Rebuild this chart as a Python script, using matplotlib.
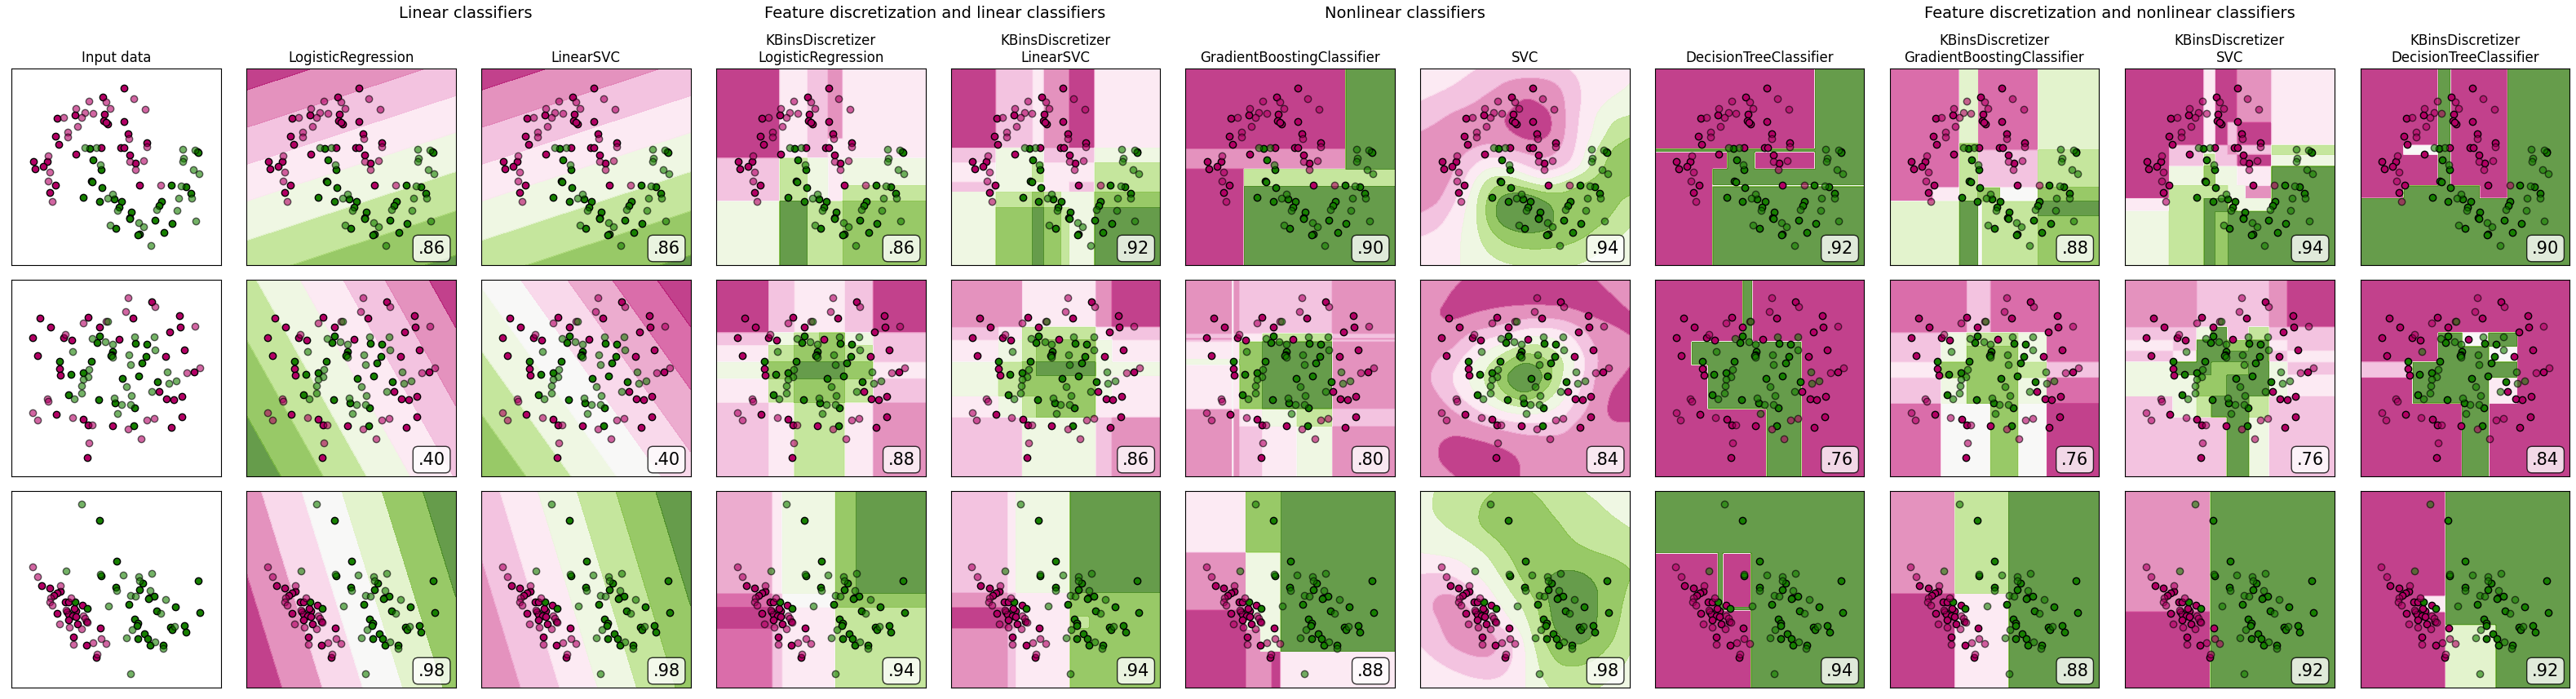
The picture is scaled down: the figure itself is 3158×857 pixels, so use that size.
import numpy as np
import matplotlib
matplotlib.use("Agg")
import matplotlib.pyplot as plt

PX_W, PX_H = 3158, 857
COL_LEFT = [14, 302, 590, 878, 1165.5, 1453, 1741, 2028.5, 2316.5, 2605, 2893.5]
ROW_TOP = [84, 343, 602]
PANEL_W, PANEL_H = 256.5, 241

NAMES = ["Input data", "LogisticRegression", "LinearSVC",
         "KBinsDiscretizer\nLogisticRegression", "KBinsDiscretizer\nLinearSVC",
         "GradientBoostingClassifier", "SVC", "DecisionTreeClassifier",
         "KBinsDiscretizer\nGradientBoostingClassifier", "KBinsDiscretizer\nSVC",
         "KBinsDiscretizer\nDecisionTreeClassifier"]
GROUP_TITLES = ["Linear classifiers", "Feature discretization and linear classifiers",
                "Nonlinear classifiers", "Feature discretization and nonlinear classifiers"]
GROUP_X = [571, 1146, 1722, 2586]

SCORES_0 = [".86", ".86", ".86", ".92", ".90", ".94", ".92", ".88", ".94", ".90"]
SCORES_1 = [".40", ".40", ".88", ".86", ".80", ".84", ".76", ".76", ".76", ".84"]
SCORES_2 = [".98", ".98", ".94", ".94", ".88", ".98", ".94", ".88", ".92", ".92"]

# points, read in units of a 468 x 723 panel
M_TRAIN_0 = [(276,323),(229,357),(167,423),(128,435),(233,421),(232,443),(240,455),(236,449),(276,448),(286,492),
             (123,502),(130,530),(327,525),(225,543),(270,544),(277,544),(169,566),(290,569),(74,593),(105,595),
             (97,612),(78,620),(303,600),(311,682),(124,681),(111,708)]
M_TEST_0 = [(299,362),(198,371),(237,374),(245,398),(325,402),(169,398),(190,415),(207,417),(181,432),(141,431),
            (172,466),(150,487),(150,503),(287,510),(327,540),(108,573),(290,593),(321,590),(302,625),(111,633),
            (107,667),(117,742),(359,682)]
G_TRAIN_0 = [(201,547),(208,589),(225,625),(203,666),(206,670),(227,691),(382,681),(415,686),(427,710),(186,725),
             (222,742),(254,733),(272,742),(265,763),(293,779),(289,802),(290,805),(347,811),(385,821),(259,839),
             (311,860),(308,863),(366,855),(360,742),(356,755),(441,559),(442,561)]
G_TEST_0 = [(190,544),(214,542),(408,549),(436,552),(410,582),(409,595),(223,606),(432,625),(445,640),(405,684),
            (251,714),(399,729),(428,730),(241,728),(263,775),(350,771),(396,773),(437,813),(309,820),(320,835),
            (245,829),(337,903)]

M_TRAIN_1 = [(339,151),(89,210),(197,206),(297,211),(400,200),(113,244),(222,243),(402,243),(379,261),(73,283),
             (141,281),(160,292),(266,287),(411,326),(84,348),(369,351),(132,396),(135,421),(434,407),(355,481),
             (372,508),(388,511),(407,499),(126,564),(186,581),(197,604),(251,607),(382,613),(406,574),(195,724)]
M_TEST_1 = [(286,135),(347,168),(281,186),(185,229),(237,221),(435,241),(146,270),(447,392),(418,411),(105,507),
            (108,515),(73,557),(83,585),(161,576),(206,604),(286,619),(328,586),(345,580),(199,668),(315,654)]
G_TRAIN_1 = [(222,276),(216,301),(303,304),(328,306),(252,333),(250,345),(248,349),(326,351),(132,369),(203,369),
             (317,376),(185,412),(158,418),(310,422),(274,432),(351,443),(153,493),(220,511),(257,521),(301,539),(298,606)]
G_TEST_1 = [(240,222),(205,285),(235,298),(251,305),(300,280),(345,280),(346,327),(162,333),(288,344),(251,355),
            (291,380),(199,398),(374,408),(196,426),(185,436),(182,458),(393,440),(377,449),(283,462),(338,481),
            (181,486),(294,495),(166,506),(254,503),(271,528),(291,527),(262,561)]

G_TRAIN_2 = [(222,146),(260,295),(225,348),(442,367),(259,392),(318,377),(311,400),(333,430),(345,424),(331,432),
             (287,455),(167,445),(194,468),(392,464),(349,478),(446,484),(301,508),(307,524),(306,531),(411,531),
             (380,537),(384,547),(416,555),(322,562),(330,580),(307,579),(335,605),(365,605)]
G_TEST_2 = [(181,84),(147,332),(224,343),(275,345),(310,351),(339,341),(311,367),(260,404),(335,402),(292,422),
            (303,425),(370,436),(243,460),(359,486),(295,548),(389,536),(283,576),(347,591),(364,615),(292,709)]
M_TRAIN_2 = [(92,384),(111,395),(134,405),(127,412),(119,420),(145,445),(153,445),(184,456),(128,487),(149,480),
             (170,477),(152,490),(162,495),(170,500),(153,512),(173,525),(192,518),(223,542),(163,575),(193,603),
             (214,648),(165,470)]
M_TEST_2 = [(72,316),(84,352),(135,385),(112,430),(110,445),(117,456),(159,431),(147,475),(185,495),(133,525),
            (154,537),(182,543),(190,505),(195,520),(163,600),(208,595),(225,580),(237,598),(216,637)]

# offset of each dataset reading inside the zoomed panel
POINT_X0, POINT_SPAN_X = 25, 468
POINT_Y0 = [252, 69, 37]
POINT_SPAN_Y = 723

# fraction along PiYG for each named shade
SHADES = dict(a=.07, j=.15, b=.2, k=.25, c=.3, n=.36, d=.42, e=.5, f=.57, m=.62, g=.7, h=.8, i=.93)

# linear decision surfaces: z = cu*u + cv*v, band edges, band shades
LIN_0 = (-0.35, 1.0, [-.30, -.075, .125, .325, .512, .70, .89], "ihgfdcba")
LIN_1A = (1.0, 0.527, [.165, .368, .575, .785, .99, 1.19, 1.40], "ihgfdcba")
LIN_1B = (1.0, 0.672, [.214, .43, .647, .861, 1.084, 1.298, 1.512], "hgfenkja")
LIN_2A = (1.0, 0.2915, [.171, .363, .556, .748, .94, 1.135], "abnemhi")
LIN_2B = (1.0, 0.2857, [.188, .374, .556, .743, .929, 1.119], "bcdfghi")

# piecewise surfaces: x edges, y edges, cell shades
STEP_03 = ([0,143,203,251,284,468], [0,258,328,430,488,723], ["adcbd","adcdd","cgfdf","cgfdg","figgh"])
STEP_04 = ([0,102,182,208,246,265,321,468], [0,291,345,416,456,511,723],
           ["acdbbad","cffcccf","dfgdddg","cffddcg","fghgffh","fhihgfi"])
STEP_05 = ([0,131,359,468], [0,294,371,433,723], ["aai","bbi","agg","aii"])
STEP_07 = ([0,155,194,268,428,560], [0,294,306,371,429,433,723], ["aaaai","iiiii","aaiai","aiiii","aeeee","aiiii"])
STEP_08 = ([0,116,188,235,249,294,397,560], [0,276,300,438,488,541,723],
           ["jjmjjjm","jjhjjjm","jjgcccg","jdghheh","mmieggi","mmieggh"])
STEP_09 = ([0,118,211,241,275,301,321,393,561], [0,198,283,315,361,430,478,526,723],
           ["aadaabbd","aadacaad","acfcbccg","acgccaaf","afhffddi","agggffbi","dgiigffi","fgihiiii"])
STEP_010 = ([0,117,210,240,319,394,560], [0,283,315,431,478,723], ["aaiaai","aeiaai","aaiaai","aiiiai","iiiiii"])

STEP_13 = ([0,117,175,230,288,351,468], [0,193,243,303,363,451,723],
           ["acddca","cfghfc","dghhgc","fhiihd","dghhgc","cdggdb"])
STEP_14 = ([0,108,160,192,323,360,468], [0,174,221,303,353,429,506,723],
           ["bbddba","cdggdc","dfghfd","fghiff","fghhfd","dfghdd","ccffcb"])
STEP_15 = ([0,105,107,121,173,251,329,468], [0,197,213,218,229,293,313,474,539,723],
           ["bebcccb","cecdggc","aecdgga","cecdggc","dedhiib","fefhiib","dedhiib","bebdfgc","bebcdfb"])
STEP_17 = ([0,99,142,235,260,300,392,560], [0,229,314,474,723], ["aaaiaaa","aiiiiia","aaiiiia","aaaaaia"])
STEP_18 = ([0,139,208,270,344,421,561], [0,193,246,301,361,453,723],
           ["jjcjjj","cfggfj","cfhhfj","dhhhgc","cfhhfj","jeehea"])
STEP_19 = ([0,129,193,231,273,331,386,434,561], [0,174,221,263,301,351,429,506,723],
           ["bbccccba","ccficgcc","dciihidc","cdiiiicd","fiihhifc","ffhhiifd","cfgiigcc","ccccifcc"])
STEP_110 = ([0,140,209,272,344,420,560], [0,193,246,301,361,453,723],
            ["aaaaaa","aaieia","aaiiea","ciiiia","aiiida","aaaiaa"])

STEP_23 = ([0,126,148,266,313,468], [0,376,426,506,723], ["kdfhi","jcehh","abdgg","jcdgg"])
STEP_24 = ([0,127,146,266,283,310,468], [0,375,426,460,506,723],
           ["cdfiii","bcdhhh","abdhhh","abdhgh","bcdhhh"])
STEP_25 = ([0,136,169,194,215,469], [0,226,438,508,590,723], ["dhhhi","bfffi","afffi","abffi","abbad"])
STEP_27 = ([0,170,181,258,560], [0,228,428,438,723], ["iiii","aiai","aiii","aaai"])
STEP_28 = ([0,174,319,560], [0,376,723], ["bgi","adi"])
STEP_29 = ([0,229,561], [0,443,723], ["bi","ai"])
STEP_210 = ([0,172,229,364,560], [0,386,443,493,723], ["aaii","adii","aaii","aami"])

# SVC surfaces: band index read on a 13 x 13 lattice (top row first)
SVC_0_SHADES = "abcdfghi"
SVC_0 = [
 [3.0,3.0,3.0,2.6,2.2,2.0,2.0,2.0,2.3,2.7,3.0,3.0,3.3],
 [3.0,2.8,2.5,2.0,1.7,1.3,1.1,1.1,1.4,2.4,3.0,3.2,3.5],
 [2.5,2.2,1.9,1.6,1.2,1.0,0.2,0.7,1.1,2.3,3.1,3.6,3.8],
 [1.9,1.6,1.2,1.0,0.9,0.3,-0.3,-0.2,1.0,2.4,3.5,4.4,4.6],
 [1.4,1.2,1.0,1.0,1.0,0.6,0.1,-0.1,1.0,2.5,3.6,4.9,5.4],
 [1.2,1.0,1.1,1.5,1.9,1.6,1.2,1.2,1.4,2.6,4.4,5.7,5.9],
 [1.0,1.0,1.4,2.5,3.5,3.2,2.6,1.6,2.1,3.0,4.9,6.0,6.3],
 [1.0,1.1,1.6,3.4,5.2,5.6,4.6,3.9,4.5,5.5,5.9,6.2,6.2],
 [1.0,1.2,2.4,3.9,6.0,7.2,7.8,6.7,6.1,6.1,6.0,5.8,5.2],
 [1.6,2.0,2.9,4.0,6.0,7.8,8.2,7.2,6.2,6.2,6.0,5.5,4.9],
 [2.3,2.6,3.2,4.0,5.4,6.1,6.5,6.5,6.3,6.0,5.4,4.9,4.3],
 [3.0,3.1,3.3,3.9,4.7,5.3,5.5,5.5,5.4,5.1,4.7,4.2,4.1],
 [3.3,3.3,3.4,3.7,4.1,4.4,4.6,4.6,4.6,4.5,4.2,4.1,4.0]]
SVC_1_SHADES = "abcdfghi"
SVC_1 = [
 [1.2,1.1,0.7,0.2,0.0,0.0,0.0,0.0,0.0,0.1,0.4,1.0,1.2],
 [1.1,0.9,0.2,0.0,0.0,0.0,0.0,0.0,0.0,0.0,0.0,0.4,0.9],
 [1.0,0.4,0.1,0.4,0.6,0.8,0.9,0.9,0.8,0.5,0.2,0.1,0.4],
 [1.0,0.7,0.9,1.3,1.5,1.8,2.4,2.6,2.5,1.8,1.0,0.6,0.3],
 [1.0,1.1,1.3,2.4,3.2,3.9,4.6,4.7,3.9,2.6,1.4,1.0,0.8],
 [1.0,1.5,2.2,3.4,4.4,5.5,6.6,5.9,5.0,3.4,1.6,1.0,0.6],
 [1.1,1.9,2.7,3.9,5.0,6.9,8.5,6.9,4.7,3.0,1.4,0.7,0.3],
 [1.0,1.4,2.3,3.3,4.4,5.6,6.7,5.3,4.1,2.6,1.3,0.3,0.1],
 [1.0,1.0,1.5,2.2,3.0,3.7,3.9,3.8,3.2,1.9,1.0,0.2,0.1],
 [1.0,0.9,0.8,1.1,1.4,1.7,2.0,2.0,2.0,1.1,0.9,0.6,0.7],
 [1.0,0.5,0.1,0.2,0.4,0.7,0.9,1.0,1.0,1.0,1.0,1.0,1.0],
 [1.0,0.5,0.0,0.0,0.0,0.2,0.6,1.0,1.0,1.0,1.0,1.0,1.0],
 [1.0,0.9,0.5,0.1,0.1,0.2,0.6,1.0,1.0,1.0,1.0,1.0,1.0]]
SVC_2_SHADES = "bcdfghi"
SVC_2 = [
 [3.1,3.6,3.9,4.0,4.4,4.7,4.6,4.3,4.1,3.6,3.3,3.0,2.9],
 [3.2,3.7,3.9,4.2,4.9,5.1,5.0,4.6,4.1,3.9,3.7,3.3,3.0],
 [3.1,3.4,3.8,4.3,5.0,5.4,5.3,5.0,4.5,4.2,3.9,3.7,3.4],
 [2.9,3.0,3.2,3.6,4.2,4.9,5.3,5.1,4.7,4.4,4.2,4.0,3.8],
 [2.4,2.5,2.6,3.0,3.5,4.4,5.1,5.2,5.0,4.8,4.6,4.5,4.3],
 [1.5,1.4,1.7,2.4,3.1,3.9,4.9,5.2,5.6,5.6,5.2,4.8,4.6],
 [1.0,0.6,0.7,1.5,2.5,3.4,4.3,5.3,6.4,6.7,5.6,5.0,4.4],
 [0.9,0.2,-0.2,0.9,1.8,2.9,3.6,4.8,6.4,6.8,5.6,4.9,4.2],
 [1.0,0.6,-0.3,-0.2,1.2,2.3,3.2,4.6,6.2,6.6,5.6,4.8,4.1],
 [1.3,0.9,-0.1,-0.3,-0.2,1.0,2.6,4.5,5.4,6.0,5.4,4.6,3.8],
 [1.7,1.3,0.8,0.4,0.3,1.0,2.3,4.0,4.9,5.0,4.7,4.1,3.5],
 [2.0,1.8,1.5,1.2,1.1,1.4,2.4,3.7,4.3,4.3,4.1,3.7,3.2],
 [2.2,2.2,2.1,1.9,1.8,1.9,2.4,3.2,3.9,3.9,3.6,3.2,3.0]]

SURFACES = {
    (0, 1): ("lin", LIN_0), (0, 2): ("lin", LIN_0), (1, 1): ("lin", LIN_1A), (1, 2): ("lin", LIN_1B),
    (2, 1): ("lin", LIN_2A), (2, 2): ("lin", LIN_2B),
    (0, 3): ("step", STEP_03), (0, 4): ("step", STEP_04), (0, 5): ("step", STEP_05), (0, 7): ("step", STEP_07),
    (0, 8): ("step", STEP_08), (0, 9): ("step", STEP_09), (0, 10): ("step", STEP_010),
    (1, 3): ("step", STEP_13), (1, 4): ("step", STEP_14), (1, 5): ("step", STEP_15), (1, 7): ("step", STEP_17),
    (1, 8): ("step", STEP_18), (1, 9): ("step", STEP_19), (1, 10): ("step", STEP_110),
    (2, 3): ("step", STEP_23), (2, 4): ("step", STEP_24), (2, 5): ("step", STEP_25), (2, 7): ("step", STEP_27),
    (2, 8): ("step", STEP_28), (2, 9): ("step", STEP_29), (2, 10): ("step", STEP_210),
    (0, 6): ("svc", (SVC_0, SVC_0_SHADES)), (1, 6): ("svc", (SVC_1, SVC_1_SHADES)), (2, 6): ("svc", (SVC_2, SVC_2_SHADES)),
}

POINTS = [(M_TRAIN_0, M_TEST_0, G_TRAIN_0, G_TEST_0),
          (M_TRAIN_1, M_TEST_1, G_TRAIN_1, G_TEST_1),
          (M_TRAIN_2, M_TEST_2, G_TRAIN_2, G_TEST_2)]
SCORES = [SCORES_0, SCORES_1, SCORES_2]
CM = plt.cm.PiYG
MAGENTA, GREEN = "#b30065", "#178000"


def shade_colors(s):
    return [CM(SHADES[ch]) for ch in s]


def draw_linear(ax, spec):
    cu, cv, edges, shades = spec
    u, yd = np.meshgrid(np.linspace(0, 1, 300), np.linspace(0, 1, 300))
    z = cu * u + cv * (1 - yd)
    ax.contourf(u, yd, z, levels=[-99] + list(edges) + [99], colors=shade_colors(shades), alpha=0.8)


def draw_step(ax, spec):
    xe, ye, cells = spec
    xe = np.asarray(xe, float) / xe[-1]
    ye = np.asarray(ye, float) / ye[-1]
    xs = np.linspace(0, 1, 230)
    ys = np.linspace(0, 1, 215)
    ix = np.clip(np.searchsorted(xe, xs, side="right") - 1, 0, len(xe) - 2)
    iy = np.clip(np.searchsorted(ye, ys, side="right") - 1, 0, len(ye) - 2)
    table = np.array([[SHADES[c] for c in row] for row in cells])
    z = table[np.ix_(iy, ix)]
    vals = sorted(SHADES.values())
    mids = [(p + q) / 2 for p, q in zip(vals[:-1], vals[1:])]
    levels = [-1] + mids + [2]
    ax.contourf(xs, ys, z, levels=levels, colors=[CM(v) for v in vals], alpha=0.8)


def draw_svc(ax, spec):
    grid, shades = spec
    grid = np.asarray(grid, float)
    n = 261
    fine = np.linspace(0, 12, n)
    lat = np.arange(13)
    tmp = np.array([np.interp(fine, lat, row) for row in grid])
    up = np.array([np.interp(fine, lat, col) for col in tmp.T]).T
    sigma = 8.0
    r = int(3 * sigma)
    kern = np.exp(-0.5 * (np.arange(-r, r + 1) / sigma) ** 2)
    kern /= kern.sum()
    def smooth(a):
        return np.convolve(np.r_[2 * a[0] - a[r:0:-1], a, 2 * a[-1] - a[-2:-r - 2:-1]], kern, mode="valid")
    up = np.apply_along_axis(smooth, 0, up)
    up = np.apply_along_axis(smooth, 1, up)
    xs = np.linspace(0, 1, n)
    nb = len(shades)
    levels = [-99] + [i + 0.5 for i in range(nb - 1)] + [99]
    ax.contourf(xs, xs, up, levels=levels, colors=shade_colors(shades), alpha=0.8)


fig = plt.figure(figsize=(PX_W / 100, PX_H / 100), dpi=100)

for r in range(3):
    m_tr, m_te, g_tr, g_te = POINTS[r]
    for c in range(11):
        ax = fig.add_axes([COL_LEFT[c] / PX_W, 1 - (ROW_TOP[r] + PANEL_H) / PX_H, PANEL_W / PX_W, PANEL_H / PX_H])
        if (r, c) in SURFACES:
            kind, spec = SURFACES[(r, c)]
            {"lin": draw_linear, "step": draw_step, "svc": draw_svc}[kind](ax, spec)
        for pts, col, alpha in ((m_tr, MAGENTA, 1.0), (g_tr, GREEN, 1.0), (m_te, MAGENTA, 0.6), (g_te, GREEN, 0.6)):
            arr = np.array(pts, float)
            ax.scatter((arr[:, 0] - POINT_X0) / POINT_SPAN_X, (arr[:, 1] - POINT_Y0[r]) / POINT_SPAN_Y,
                       c=col, edgecolors="k", s=36, alpha=alpha, zorder=3)
        ax.set_xlim(0, 1)
        ax.set_ylim(1, 0)
        ax.set_xticks([])
        ax.set_yticks([])
        if r == 0:
            ax.set_title(NAMES[c], fontsize=12)
        if c > 0:
            ax.text(0.95, 0.06, SCORES[r][c - 1], size=15, ha="right", transform=ax.transAxes, zorder=5,
                    bbox=dict(boxstyle="round", alpha=0.8, facecolor="white"))

for txt, x in zip(GROUP_TITLES, GROUP_X):
    fig.text(x / PX_W, 1 - 17 / PX_H, txt, fontsize=14, ha="center", va="center")

fig.savefig("out.png", dpi=100)
